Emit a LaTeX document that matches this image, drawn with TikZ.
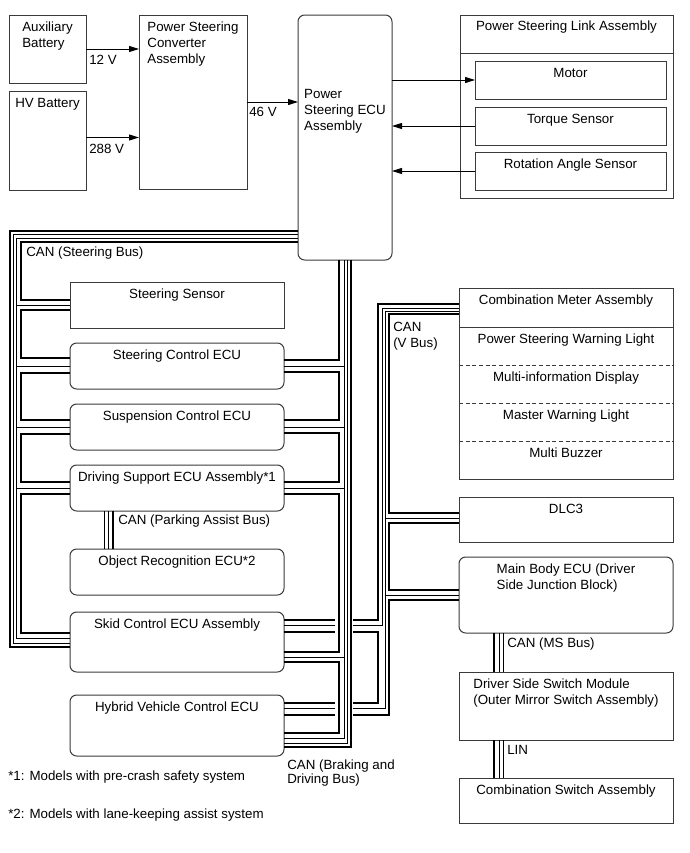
\documentclass[tikz,border=0pt]{standalone}
\usepackage{fontspec}
\setmainfont{Liberation Sans}
\usepackage{xcolor}
\usetikzlibrary{calc,positioning,arrows.meta}
\definecolor{BoxEdge}{HTML}{3A3A3A}
\definecolor{WireInk}{HTML}{000000}
\tikzset{
    unit/.style={draw=BoxEdge, fill=white, line width=0.75pt, anchor=north west, outer sep=0pt,
        inner xsep=0pt, inner ysep=4.5pt, text height=7.5pt, align=left},
    ecu/.style={unit, rounded corners=5pt},
    row/.style={inner xsep=0pt, inner ysep=4.5pt, outer sep=0pt, text height=7.5pt, text depth=12pt,
        minimum width=160.5pt},
    feed/.style={line width=0.75pt, -{Triangle[length=7.5pt,width=4.5pt]}},
    wirebold/.style={draw=WireInk, line width=2pt},
    wirethin/.style={draw=WireInk, line width=0.6pt},
    note/.style={inner sep=0pt, anchor=north west, align=left}
}

\begin{document}
\begin{tikzpicture}[x=0.75pt,y=-0.75pt]
    \useasboundingbox (0,0) rectangle (689,853);

    % power supply
    \node[unit, minimum width=57.75pt, text height=19.5pt, text depth=22.5pt] (auxb) at (9,15) {Auxiliary\\Battery};
    \node[unit, minimum width=57.75pt, text depth=57.75pt] (hvb) at (9,91) {HV Battery};
    \node[unit, minimum width=81pt, text height=31.5pt, text depth=90pt] (conv) at (139,15) {Power Steering\\Converter\\Assembly};
    \node[ecu, minimum width=70.5pt, text height=81.75pt, text depth=93pt] (psecu) at (298,15) {Power\\Steering ECU\\Assembly};

    % link assembly
    \node[unit, minimum width=159.75pt, text depth=120.75pt] (link) at (460,15) {Power Steering Link Assembly};
    \draw[BoxEdge, line width=0.75pt] ($(link.north west)+(0,38)$) -- ($(link.north east)+(0,38)$);
    \node[unit, minimum width=143.25pt, text depth=12pt] (motor) at (475,61) {Motor};
    \node[unit, anchor=north, minimum width=143.25pt, text depth=12pt, below=6pt of motor] (torq) {Torque Sensor};
    \node[unit, anchor=north, minimum width=143.25pt, text depth=12pt, below=5.25pt of torq] (rang) {Rotation Angle Sensor};

    \draw[feed] (auxb.east) -- (auxb.east -| conv.west);
    \draw[feed] ($(hvb.east)+(0,-3)$) -- ($(hvb.east -| conv.west)+(0,-3)$);
    \draw[feed] (conv.east) -- (conv.east -| psecu.west);
    \draw[feed] (psecu.east |- motor.west) -- (motor.west);
    \draw[feed] (torq.west) -- (torq.west -| psecu.east);
    \draw[feed] (rang.west) -- (rang.west -| psecu.east);
    \node[note] (v12) at (89,55) {12 V};
    \node[note] (v288) at (89,144) {288 V};
    \node[note] (v46) at (249,107) {46 V};

    % left column
    \node[unit, minimum width=160.5pt, text depth=18pt] (ssen) at (70,282) {Steering Sensor};
    \node[ecu, anchor=north, minimum width=160.5pt, text depth=18pt, below=11.25pt of ssen] (sce) {Steering Control ECU};
    \node[ecu, anchor=north, minimum width=160.5pt, text depth=18pt, below=11.25pt of sce] (sus) {Suspension Control ECU};
    \node[ecu, anchor=north, minimum width=160.5pt, text depth=18pt, below=11.25pt of sus] (dse) {Driving Support ECU Assembly*1};
    \node[ecu, anchor=north, minimum width=160.5pt, text depth=18pt, below=28.5pt of dse] (ore) {Object Recognition ECU*2};
    \node[ecu, anchor=north, minimum width=160.5pt, text depth=28.5pt, below=12.75pt of ore] (skid) {Skid Control ECU Assembly};
    \node[ecu, anchor=north, minimum width=160.5pt, text depth=29.25pt, below=17.25pt of skid] (hve) {Hybrid Vehicle Control ECU};

    % right column
    \node[unit, minimum width=160.5pt, text depth=126.75pt] (cmeter) at (459,288) {Combination Meter Assembly};
    \node[row, anchor=north] (pswl) at ($(cmeter.north)+(0,39)$) {Power Steering Warning Light};
    \node[row, below=0pt of pswl] (mid) {Multi-information Display};
    \node[row, below=0pt of mid] (mwl) {Master Warning Light};
    \node[row, below=0pt of mwl] (mbz) {Multi Buzzer};
    \draw[BoxEdge, line width=0.75pt] (cmeter.west |- pswl.north) -- (cmeter.east |- pswl.north);
    \draw[BoxEdge, line width=0.75pt, dash pattern=on 3pt off 2pt] (cmeter.west |- mid.north) -- (cmeter.east |- mid.north);
    \draw[BoxEdge, line width=0.75pt, dash pattern=on 3pt off 2pt] (cmeter.west |- mwl.north) -- (cmeter.east |- mwl.north);
    \draw[BoxEdge, line width=0.75pt, dash pattern=on 3pt off 2pt] (cmeter.west |- mbz.north) -- (cmeter.east |- mbz.north);
    \node[unit, minimum width=160.5pt, text depth=17.25pt] (dlc) at (459,497) {DLC3};
    \node[ecu, minimum width=160.5pt, text height=19.5pt, text depth=28.5pt] (mbe) at (459,557) {Main Body ECU (Driver\\Side Junction Block)};
    \node[unit, minimum width=160.5pt, text height=19.5pt, text depth=22.5pt] (dss) at (459,672) {Driver Side Switch Module\\(Outer Mirror Switch Assembly)};
    \node[unit, minimum width=160.5pt, text depth=17.25pt] (csw) at (459,778) {Combination Switch Assembly};

    % CAN (Steering Bus)
    \draw[wirebold] (psecu.west |- 0,231) -| (10,647) -- (skid.west |- 0,647);
    \draw[wirethin] (psecu.west |- 0,234) -| (13,643) -- (skid.west |- 0,643);
    \draw[wirethin] (psecu.west |- 0,238) -| (16,638) -- (skid.west |- 0,638);
    \foreach \yy/\dev in {305/ssen,366/sce,427/sus,488/dse}
        \draw[wirethin] (16,\yy) -- (\dev.west |- 0,\yy);
    \draw[wirebold] (psecu.west |- 0,242) -| (21,300) -- (ssen.west |- 0,300);
    \draw[wirebold] (ssen.west |- 0,310) -| (21,358) -- (sce.west |- 0,358);
    \draw[wirebold] (sce.west |- 0,373) -| (21,420) -- (sus.west |- 0,420);
    \draw[wirebold] (sus.west |- 0,434) -| (21,482) -- (dse.west |- 0,482);
    \draw[wirebold] (dse.west |- 0,494) -| (21,633) -- (skid.west |- 0,633);
    \node[note] (canst) at (26,247) {CAN (Steering Bus)};

    % CAN (Braking and Driving Bus)
    \draw[wirebold] (psecu.south -| 339,0) |- (sce.east |- 0,360);
    \draw[wirebold] (sce.east |- 0,372) -| (339,420) -- (sus.east |- 0,420);
    \draw[wirebold] (sus.east |- 0,433) -| (339,482) -- (dse.east |- 0,482);
    \draw[wirebold] (dse.east |- 0,494) -| (339,652) -- (skid.east |- 0,652);
    \draw[wirebold] (skid.east |- 0,662) -| (339,733) -- (hve.east |- 0,733);
    \draw[wirethin] (psecu.south -| 344,0) |- (hve.east |- 0,738);
    \foreach \yy/\dev in {366/sce,427/sus,488/dse,657/skid}
        \draw[wirethin] (344,\yy) -- (\dev.east |- 0,\yy);
    \draw[wirethin] (psecu.south -| 347,0) |- (hve.east |- 0,743);
    \draw[wirebold] (psecu.south -| 351,0) |- (hve.east |- 0,747);
    \node[note] (canbd) at (287,760) {CAN (Braking and\\[-2pt]Driving Bus)};

    % CAN (V Bus)
    \draw[wirebold] (cmeter.west |- 0,304) -| (378,620) -- (353,620);
    \draw[wirebold] (335,620) -- (skid.east |- 0,620);
    \draw[wirethin] (cmeter.west |- 0,308) -| (382,625) -- (353,625);
    \draw[wirethin] (335,625) -- (skid.east |- 0,625);
    \draw[wirethin] (cmeter.west |- 0,311) -| (385,708) -- (353,708);
    \draw[wirethin] (335,708) -- (hve.east |- 0,708);
    \foreach \yy/\dev in {518/dlc,595/mbe}
        \draw[wirethin] (385,\yy) -- (\dev.west |- 0,\yy);
    \draw[wirebold] (cmeter.west |- 0,314) -| (389,513) -- (dlc.west |- 0,513);
    \draw[wirebold] (dlc.west |- 0,523) -| (389,590) -- (mbe.west |- 0,590);
    \draw[wirebold] (mbe.west |- 0,600) -| (389,715) -- (353,715);
    \draw[wirebold] (335,715) -- (hve.east |- 0,715);
    \draw[wirebold] (skid.east |- 0,632) -- (335,632);
    \draw[wirebold] (353,632) -| (378,703) -- (353,703);
    \draw[wirebold] (335,703) -- (hve.east |- 0,703);
    \node[note] (canv) at (393,322) {CAN\\(V Bus)};

    % point to point buses
    \draw[wirebold] (dse.south -| 113,0) -- (ore.north -| 113,0);
    \draw[wirethin] (dse.south -| 104,0) -- (ore.north -| 104,0);
    \draw[wirethin] (dse.south -| 108,0) -- (ore.north -| 108,0);
    \node[note] (canpa) at (118,515) {CAN (Parking Assist Bus)};
    \draw[wirebold] (mbe.south -| 494,0) -- (dss.north -| 494,0);
    \draw[wirethin] (mbe.south -| 499,0) -- (dss.north -| 499,0);
    \draw[wirethin] (mbe.south -| 503,0) -- (dss.north -| 503,0);
    \node[note] (canms) at (507,638) {CAN (MS Bus)};
    \draw[wirebold] (dss.south -| 494,0) -- (csw.north -| 494,0);
    \draw[wirethin] (dss.south -| 499,0) -- (csw.north -| 499,0);
    \draw[wirethin] (dss.south -| 503,0) -- (csw.north -| 503,0);
    \node[note] (lin) at (507,745) {LIN};

    % footnotes
    \node[note] (fn1) at (8,771) {*1: Models with pre-crash safety system};
    \node[note] (fn2) at (8,809) {*2: Models with lane-keeping assist system};
\end{tikzpicture}
\end{document}
